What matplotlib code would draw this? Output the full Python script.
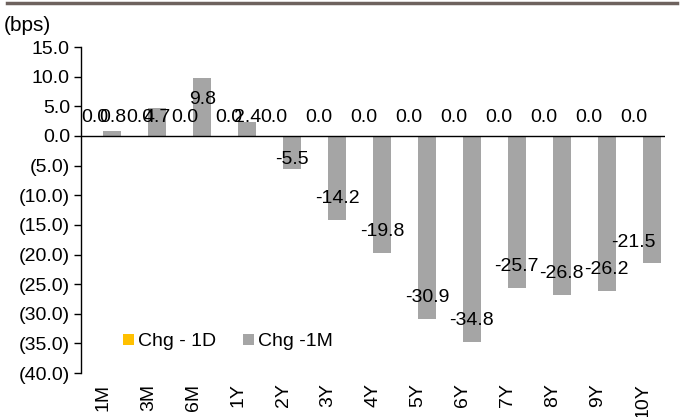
import numpy as np
import matplotlib
matplotlib.use("Agg")
import matplotlib.pyplot as plt
from matplotlib.lines import Line2D

plt.rcParams["font.family"] = ["Liberation Sans", "DejaVu Sans"]
plt.rcParams["font.size"] = 14

# Data
tenors = ["1M", "3M", "6M", "1Y", "2Y", "3Y", "4Y", "5Y", "6Y", "7Y", "8Y", "9Y", "10Y"]
chg_1d = [0.0, 0.0, 0.0, 0.0, 0.0, 0.0, 0.0, 0.0, 0.0, 0.0, 0.0, 0.0, 0.0]
chg_1m = [0.8, 4.7, 9.8, 2.4, -5.5, -14.2, -19.8, -30.9, -34.8, -25.7, -26.8, -26.2, -21.5]
yticks = [15, 10, 5, 0, -5, -10, -15, -20, -25, -30, -35, -40]

x = np.arange(len(tenors))
w = 0.4

fig = plt.figure(figsize=(6.81, 4.17), dpi=100)
ax = fig.add_axes([0.119, 0.1055, 0.8575, 0.7815])

ax.bar(x - w / 2, chg_1d, w, color="#FFC000", label="Chg - 1D")
ax.bar(x + w / 2, chg_1m, w, color="#A5A5A5", label="Chg -1M")

# data labels
for i, v in enumerate(chg_1d):
    ax.text(x[i] - w / 2, 3.2, f"{v:.1f}", ha="center", va="center", fontsize=14)
for i, v in enumerate(chg_1m):
    if v >= 0:
        ly = max(v - 3.7, 3.2)
    else:
        ly = min(v + 3.6, -4.0)
    lx = x[i] + w / 2
    if i == len(chg_1m) - 1:
        lx -= 0.4
    ax.text(lx, ly, f"{v:.1f}", ha="center", va="center", fontsize=14)

ax.set_xlim(-0.5, len(tenors) - 0.5)
ax.set_ylim(-40, 15)
ax.set_yticks(yticks)
ax.set_yticklabels([f"{t:.1f}" if t >= 0 else f"({-t:.1f})" for t in yticks])
ax.tick_params(axis="y", direction="out", length=5, width=1, labelsize=14, pad=3)

ax.set_xticks(x)
ax.set_xticklabels(tenors, rotation=90)
ax.tick_params(axis="x", length=0, labelsize=14, pad=7.5)

for s in ["top", "right", "bottom"]:
    ax.spines[s].set_visible(False)
ax.spines["left"].set_linewidth(1)
ax.axhline(0, color="black", linewidth=1)

fig.text(0.006, 0.94, "(bps)", fontsize=15, ha="left", va="center")

leg = fig.legend(loc="center left", bbox_to_anchor=(0.155, 0.18), ncol=2, frameon=False,
                 fontsize=14, handlelength=0.55, handleheight=0.55, handletextpad=0.2,
                 columnspacing=1.4)

fig.add_artist(Line2D([0.01, 0.994], [0.994, 0.994], transform=fig.transFigure,
                      color="#6E625E", linewidth=2.5))

fig.savefig("out.png", dpi=100)
